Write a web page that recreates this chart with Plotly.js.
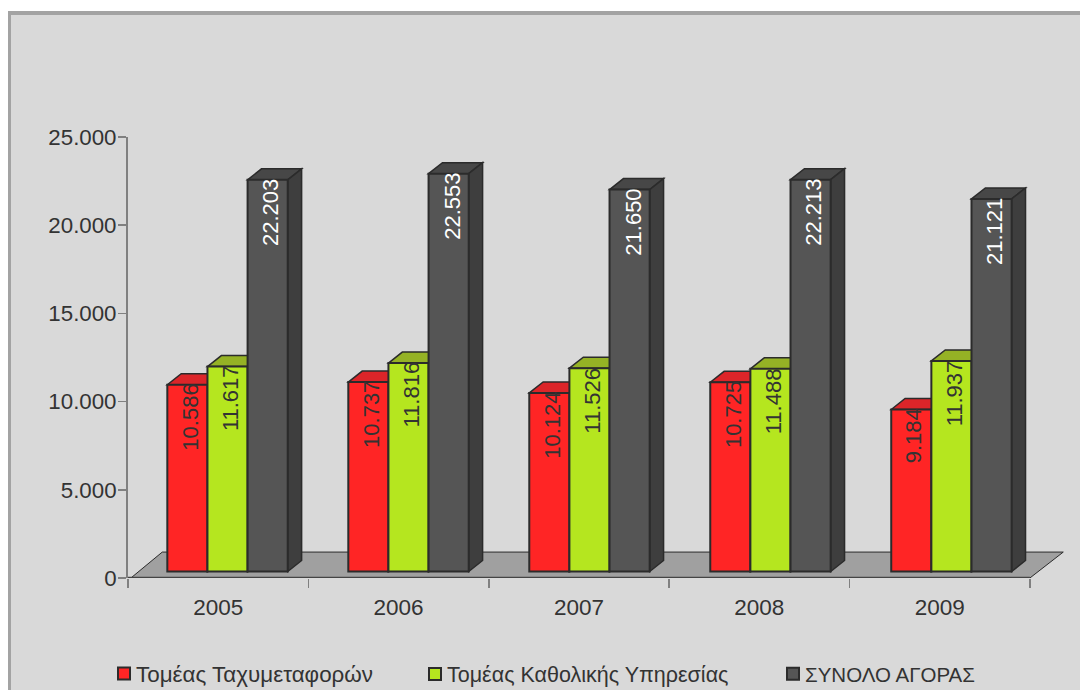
<!DOCTYPE html>
<html>
<head>
<meta charset="utf-8">
<script src="https://cdn.plot.ly/plotly-3.0.1.min.js"></script>
<style>
html,body{margin:0;padding:0;background:#fff;width:1080px;height:690px;overflow:hidden}
#panel{position:absolute;left:8px;top:11px;width:1080px;height:690px;background:#d9d9d9;border-left:3px solid #a3a3a3;border-top:4px solid #a3a3a3}
#chart{position:absolute;left:0;top:0;width:1080px;height:690px}
.legendsymbols{transform:translateX(8px)}
</style>
</head>
<body>
<div id="panel"></div>
<div id="chart"></div>
<script>
const years = ['2005','2006','2007','2008','2009'];
const postal = [10586,10737,10124,10725,9184];
const universal = [11617,11816,11526,11488,11937];
const market = [22203,22553,21650,22213,21121];
const seriesNames = ['Τομέας Ταχυμεταφορών','Τομέας Καθολικής Υπηρεσίας','ΣΥΝΟΛΟ ΑΓΟΡΑΣ'];
const frontColors = ['#ff2525','#b5e61f','#555555'];
const topColors = ['#dc2529','#95b225','#474747'];
const sideColors = ['#b01c1e','#7f9a1c','#3e3e3e'];
const labelColors = ['#333333','#333333','#ffffff'];
const yTicks = [0,5000,10000,15000,20000,25000];

const allSeries = [postal,universal,market];
const start = 0.218, pitch = 1.0033, barW = 0.2225, lift = 370, dx = 0.077, dy = 622;
const edge = '#2b2b2b', textCol = '#333333', font = 'Liberation Sans, Arial, sans-serif';
const xOf = (i,k) => i*pitch + start + barW*k;
const fmt = v => String(v).replace(/\B(?=(\d{3})+$)/g,'.');
const poly = (pts,fill,w) => ({type:'path',xref:'x',yref:'y',layer:'below',
  path:'M'+pts.map(p=>p[0]+','+p[1]).join('L')+'Z',fillcolor:fill,line:{color:edge,width:w}});

const shapes = [
  poly([[0.016,0],[0.19,1470],[5.185,1470],[5,0]],'#a0a0a0',1),
  {type:'line',xref:'x',yref:'y',layer:'below',x0:0,x1:5,y0:0,y1:0,line:{color:'#444444',width:2.5}}
];
const annotations = [];
const traces = allSeries.map((vals,k)=>{
  vals.forEach((v,i)=>{
    const x0=xOf(i,k), x1=x0+barW, b=lift, t=v+lift;
    shapes.push(poly([[x0,t],[x0+dx,t+dy],[x1+dx,t+dy],[x1,t]],topColors[k],1.5));
    shapes.push(poly([[x1,t],[x1+dx,t+dy],[x1+dx,b+dy],[x1,b]],sideColors[k],1.5));
    annotations.push({xref:'x',yref:'y',x:x0+barW/2,y:t,xanchor:'center',yanchor:'top',
      xshift:3,yshift:2,textangle:-90,showarrow:false,borderpad:0,
      text:fmt(v),font:{family:font,size:22,color:labelColors[k]}});
  });
  return {type:'bar',name:seriesNames[k],x:vals.map((_,i)=>xOf(i,k)+barW/2),y:vals,
    base:vals.map(()=>lift),width:barW,hoverinfo:'skip',
    marker:{color:frontColors[k],line:{color:edge,width:2}},
    legend:['legend','legend2','legend3'][k]};
});
const leg = (px,size) => ({xref:'container',yref:'container',x:px/1080,y:1-674/690,xanchor:'left',yanchor:'middle',orientation:'h',
  bgcolor:'rgba(0,0,0,0)',font:{family:font,size:size,color:textCol}});
const layout = {
  width:1080,height:690,autosize:false,
  margin:{l:128,r:5,t:137,b:111.5,pad:0},
  paper_bgcolor:'rgba(0,0,0,0)',plot_bgcolor:'rgba(0,0,0,0)',
  separators:',.',barmode:'overlay',
  font:{family:font,color:textCol},
  xaxis:{type:'linear',range:[0,5.25],tickmode:'array',
    tickvals:years.map((_,i)=>i+0.5),ticktext:years,
    ticks:'outside',ticklen:9,tickcolor:'rgba(0,0,0,0)',
    minor:{tickmode:'array',tickvals:[0,1,2,3,4,5],ticks:'outside',ticklen:9,tickcolor:'#808080',tickwidth:1.5,showgrid:false},
    showline:false,showgrid:false,zeroline:false,fixedrange:true,
    tickfont:{family:font,size:22.5,color:textCol}},
  yaxis:{range:[0,25000],tickmode:'array',tickvals:yTicks,tickformat:',d',
    ticks:'outside',ticklen:8,tickcolor:'#808080',tickwidth:1.5,ticklabelstandoff:-3,
    showline:true,linecolor:'#808080',linewidth:2,showgrid:false,zeroline:false,fixedrange:true,
    tickfont:{family:font,size:22.3,color:textCol}},
  legend:leg(96,22.4),legend2:leg(407,21.5),legend3:leg(765,20.5),
  shapes,annotations,showlegend:true
};
Plotly.newPlot('chart',traces,layout,{displayModeBar:false,staticPlot:true});
</script>
</body>
</html>
